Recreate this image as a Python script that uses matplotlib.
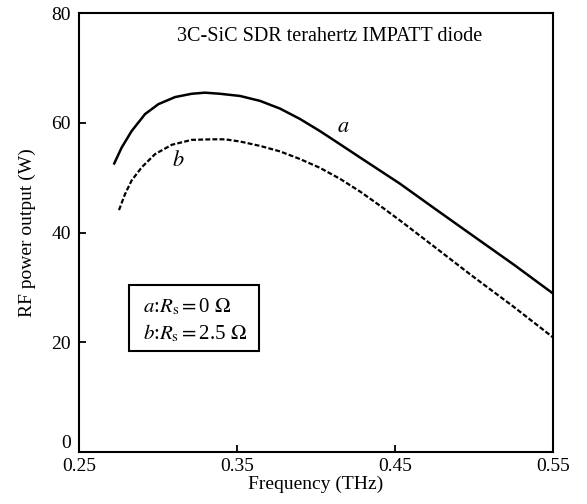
import matplotlib
matplotlib.use("Agg")
import matplotlib.pyplot as plt
from matplotlib.patches import Rectangle

plt.rcParams['font.family'] = ['Liberation Serif', 'DejaVu Serif']
plt.rcParams['mathtext.fontset'] = 'stix'

# curve a: Rs = 0 ohm
freq_a = [0.2723, 0.2770, 0.2833, 0.2918, 0.3002, 0.3108, 0.3213, 0.3297,
          0.3392, 0.3519, 0.3646, 0.3772, 0.3899, 0.4025, 0.4152, 0.4278,
          0.4405, 0.4532, 0.4750, 0.4975, 0.5250, 0.5500]
power_a = [52.6, 55.5, 58.5, 61.6, 63.4, 64.7, 65.3, 65.5,
           65.3, 64.9, 64.0, 62.6, 60.7, 58.5, 56.1, 53.7,
           51.3, 48.9, 44.4, 39.8, 34.2, 28.9]

# curve b: Rs = 2.5 ohm
freq_b = [0.2753, 0.2791, 0.2833, 0.2897, 0.2981, 0.3087, 0.3213, 0.3340,
          0.3424, 0.3519, 0.3646, 0.3772, 0.3899, 0.4025, 0.4152, 0.4278,
          0.4405, 0.4532, 0.4750, 0.4975, 0.5250, 0.5500]
power_b = [44.1, 47.0, 49.5, 51.9, 54.3, 56.0, 56.9, 57.0,
           57.0, 56.6, 55.8, 54.8, 53.4, 51.8, 49.8, 47.5,
           44.9, 42.2, 37.4, 32.4, 26.5, 20.9]

x_ticks = [0.25, 0.35, 0.45, 0.55]
x_tick_labels = ['0.25', '0.35', '0.45', '0.55']
y_ticks = [0, 20, 40, 60, 80]

fig = plt.figure(figsize=(5.87, 5.04), dpi=100)
ax = fig.add_axes([0.1346, 0.103, 0.8075, 0.871])

ax.plot(freq_a, power_a, color='black', lw=1.8, solid_joinstyle='round')
ax.plot(freq_b, power_b, color='black', lw=1.6, linestyle=(0, (2.2, 1.0)))

ax.set_xlim(0.25, 0.55)
ax.set_ylim(0, 80)
ax.set_xticks(x_ticks)
ax.set_xticklabels(x_tick_labels)
ax.set_yticks(y_ticks)
ax.tick_params(direction='in', length=5, width=1.3, labelsize=14)
ax.tick_params(axis='x', pad=4)
ax.tick_params(axis='y', pad=6)
for s in ax.spines.values():
    s.set_linewidth(1.5)

# lift the "0" on the y axis a little, as in the original
ax.get_yticklabels()[0].set_va('bottom')

ax.set_xlabel('Frequency (THz)', fontsize=14, labelpad=1)
ax.set_ylabel('RF power output (W)', fontsize=14, labelpad=11)

ax.text(0.312, 75.8, '3C-SiC SDR terahertz IMPATT diode', fontsize=14.5,
        va='center', ha='left')
ax.text(0.417, 59.2, '$a$', fontsize=16, ha='center', va='center')
ax.text(0.3127, 53.0, '$b$', fontsize=16, ha='center', va='center')

ax.add_patch(Rectangle((0.105, 0.230), 0.275, 0.150, transform=ax.transAxes,
                       fill=False, edgecolor='black', lw=1.5))
ax.text(0.135, 0.330, r'$a$:$R_{\mathrm{s}}$$=$0 $\Omega$', transform=ax.transAxes,
        fontsize=15, va='center', ha='left')
ax.text(0.135, 0.271, r'$b$:$R_{\mathrm{s}}$$=$2.5 $\Omega$', transform=ax.transAxes,
        fontsize=15, va='center', ha='left')

fig.savefig('out.png', dpi=100)
